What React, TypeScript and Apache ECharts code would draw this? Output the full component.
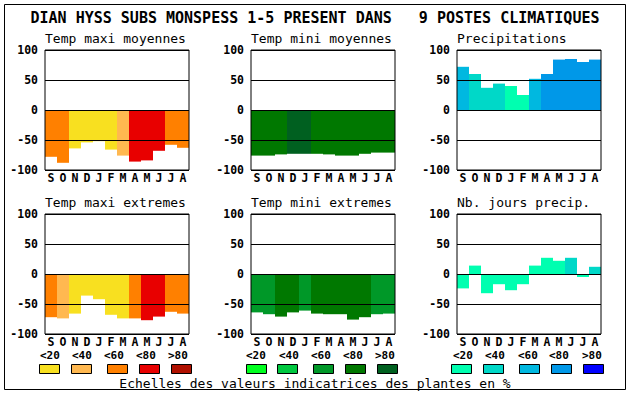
import React, { useEffect, useRef } from "react";
import * as echarts from "echarts";

const months = ["S", "O", "N", "D", "J", "F", "M", "A", "M", "J", "J", "A"];

const tmaxMoy = [-78, -88, -64, -54, -52, -66, -76, -86, -84, -68, -58, -63];
const tmaxMoyClass = [2, 2, 0, 0, 0, 0, 1, 3, 3, 3, 2, 2];
const tminMoy = [-76, -76, -74, -73, -73, -73, -74, -76, -76, -73, -71, -71];
const tminMoyClass = [3, 3, 3, 4, 4, 3, 3, 3, 3, 3, 3, 3];
const precip = [72, 60, 37, 44, 40, 25, 52, 60, 84, 85, 80, 84];
const precipClass = [2, 1, 1, 1, 0, 0, 2, 3, 3, 3, 3, 3];
const tmaxExt = [-72, -74, -66, -36, -42, -68, -74, -74, -77, -71, -63, -66];
const tmaxExtClass = [2, 1, 0, 0, 0, 0, 0, 2, 3, 3, 2, 2];
const tminExt = [-64, -67, -71, -64, -61, -66, -67, -67, -76, -72, -67, -66];
const tminExtClass = [2, 2, 3, 3, 2, 3, 3, 3, 3, 3, 2, 2];
const nbJours = [-24, 14, -32, -17, -27, -17, 14, 27, 22, 27, -5, 12];
const nbJoursClass = [0, 0, 0, 0, 0, 0, 0, 0, 0, 1, 0, 1];

const warm = ["#f8e020", "#ffb850", "#ff8000", "#e80000", "#b01000"];
const green = ["#00ff20", "#00c840", "#009828", "#007800", "#006020"];
const blue = ["#00ffb0", "#00d8c8", "#00b8e0", "#0098e8", "#0000ff"];

const legendLabels = ["<20", "<40", "<60", "<80", ">80"];
const yTicks = [-100, -50, 0, 50, 100];

const mainTitle = "DIAN HYSS SUBS MONSPESS 1-5 PRESENT DANS   9 POSTES CLIMATIQUES";
const footer = "Echelles des valeurs indicatrices des plantes en %";

const FONT = '"DejaVu Sans Mono", "Liberation Mono", monospace';

const panels = [
  { title: "Temp maxi moyennes", values: tmaxMoy, cls: tmaxMoyClass, pal: warm, left: 45, top: 50 },
  { title: "Temp mini moyennes", values: tminMoy, cls: tminMoyClass, pal: green, left: 251, top: 50 },
  { title: "Precipitations", values: precip, cls: precipClass, pal: blue, left: 457, top: 50 },
  { title: "Temp maxi extremes", values: tmaxExt, cls: tmaxExtClass, pal: warm, left: 45, top: 214 },
  { title: "Temp mini extremes", values: tminExt, cls: tminExtClass, pal: green, left: 251, top: 214 },
  { title: "Nb. jours precip.", values: nbJours, cls: nbJoursClass, pal: blue, left: 457, top: 214 },
];

const legendGroups = [
  { pal: warm, rectX: [39, 71, 107, 139, 171], labelX: [40, 72, 104, 136, 168] },
  { pal: green, rectX: [246, 277, 313, 345, 377], labelX: [246, 279, 311, 343, 375] },
  { pal: blue, rectX: [451, 483, 519, 551, 583], labelX: [453, 485, 518, 549, 582] },
];

export default function App() {
  const ref = useRef<HTMLDivElement>(null);
  useEffect(() => {
    if (!ref.current) return;
    const chart = echarts.init(ref.current, null, { renderer: "svg" });
    const W = 144;
    const H = 120;
    const grid = panels.map((p) => ({
      left: p.left,
      top: p.top,
      width: W,
      height: H,
      show: true,
      borderColor: "#000",
      borderWidth: 1,
      backgroundColor: "transparent",
      z: 6,
    }));
    const xAxis = panels.map((p, i) => ({
      type: "category",
      gridIndex: i,
      data: months,
      axisLine: { show: false },
      axisTick: { show: false },
      axisLabel: {
        interval: 0,
        margin: 2,
        color: "#000",
        fontFamily: FONT,
        fontWeight: "bold",
        fontSize: 11.5,
      },
    }));
    const yAxis = panels.map((p, i) => ({
      type: "value",
      gridIndex: i,
      min: -100,
      max: 100,
      interval: 50,
      z: 5,
      axisLine: { show: false },
      axisTick: { show: false },
      splitLine: { show: true, lineStyle: { color: "#000", width: 1 } },
      axisLabel: {
        margin: 7,
        color: "#000",
        fontFamily: FONT,
        fontWeight: "bold",
        fontSize: 11.5,
        customValues: yTicks,
      },
    }));
    const series = panels.map((p, i) => ({
      type: "bar",
      xAxisIndex: i,
      yAxisIndex: i,
      barWidth: "100%",
      barCategoryGap: "0%",
      z: 2,
      data: p.values.map((v, k) => ({ value: v, itemStyle: { color: p.pal[p.cls[k]] } })),
    }));

    const graphics: any[] = [
      {
        type: "rect",
        shape: { x: 4.5, y: 4.5, width: 621, height: 385 },
        style: { fill: "none", stroke: "#000", lineWidth: 1 },
        silent: true,
      },
      {
        type: "text",
        x: 315,
        y: 18,
        style: {
          text: mainTitle,
          fill: "#000",
          font: `bold 15px ${FONT}`,
          align: "center",
          verticalAlign: "middle",
        },
      },
      {
        type: "text",
        x: 315,
        y: 383,
        style: {
          text: footer,
          fill: "#000",
          font: `13px ${FONT}`,
          align: "center",
          verticalAlign: "middle",
        },
      },
    ];
    panels.forEach((p) => {
      graphics.push({
        type: "text",
        x: p.left,
        y: p.top - 12,
        style: {
          text: p.title,
          fill: "#000",
          font: `13px ${FONT}`,
          align: "left",
          verticalAlign: "middle",
        },
      });
    });
    legendGroups.forEach((g) => {
      g.pal.forEach((c, k) => {
        graphics.push({
          type: "rect",
          shape: { x: g.rectX[k] + 0.5, y: 364.5, width: 20, height: 9 },
          style: { fill: c, stroke: "#000", lineWidth: 1 },
        });
        graphics.push({
          type: "text",
          x: g.labelX[k],
          y: 355,
          style: {
            text: legendLabels[k],
            fill: "#000",
            font: `bold 11px ${FONT}`,
            align: "left",
            verticalAlign: "middle",
          },
        });
      });
    });

    chart.setOption({
      animation: false,
      backgroundColor: "#fff",
      grid,
      xAxis,
      yAxis,
      series,
      graphic: graphics,
    });
    return () => chart.dispose();
  }, []);
  return (
    <div
      ref={ref}
      style={{ position: "absolute", left: 0, top: 0, width: 630, height: 394, background: "#fff" }}
    />
  );
}
